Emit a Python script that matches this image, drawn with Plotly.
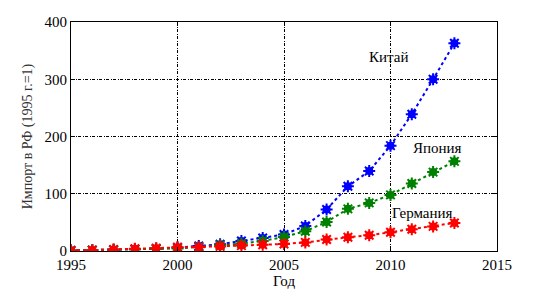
import plotly.graph_objects as go

years = list(range(1995, 2014))
china = [1, 1.5, 2, 3, 4, 6, 8.8, 11.7, 17.5, 22.8, 28.7, 43.8, 72.5, 113, 139.6, 184, 239, 300, 363]
japan = [1, 1.5, 2, 3, 4, 4.5, 7, 10, 13, 17.5, 24.5, 34.5, 50.8, 73.6, 84, 98, 118, 137.8, 156.6]
germany = [1, 1.5, 2.5, 4, 5, 6.5, 6.5, 8, 9.4, 11, 12.3, 15, 20, 24, 27.5, 32.7, 38, 43, 49]

series = [("Китай", china, "#0000ff"), ("Япония", japan, "#008000"), ("Германия", germany, "#ff0000")]
labels = [("Китай", 2009.9, 339), ("Япония", 2012.2, 180), ("Германия", 2011.5, 67)]

FONT = "Times New Roman, Liberation Serif, serif"
fig = go.Figure()
for name, vals, col in series:
    fig.add_trace(go.Scatter(x=years, y=vals, mode="lines+markers", name=name,
                             line=dict(color=col, width=2, dash="dot"),
                             marker=dict(symbol="circle", size=8, color=col)))
    fig.add_trace(go.Scatter(x=years, y=vals, mode="markers", showlegend=False,
                             marker=dict(symbol="asterisk-open", size=10, color=col,
                                         line=dict(color=col, width=2))))

for txt, x, y in labels:
    fig.add_annotation(x=x, y=y, text=txt, showarrow=False,
                       font=dict(family=FONT, size=15, color="black"))

axis_common = dict(showline=True, linecolor="black", linewidth=1, mirror="allticks",
                   ticks="inside", ticklen=4, tickcolor="black", automargin=False,
                   showgrid=True, gridcolor="black", gridwidth=1, griddash="3px,1.5px,1px,1.5px",
                   zeroline=False, tickfont=dict(family=FONT, size=15, color="black"))

fig.update_layout(
    width=541, height=285, margin=dict(l=63, r=52, t=14, b=42),
    paper_bgcolor="white", plot_bgcolor="white", showlegend=False,
    font=dict(family=FONT),
    xaxis=dict(range=[1995, 2015], tickvals=[1995, 2000, 2005, 2010, 2015],
               title=dict(text="Год", font=dict(family=FONT, size=15, color="black"), standoff=0),
               **axis_common),
    yaxis=dict(range=[0, 400], tickvals=[0, 100, 200, 300, 400],
               title=dict(text="Импорт в РФ (1995 г.=1)", font=dict(family=FONT, size=14, color="#333"), standoff=8),
               **axis_common),
)
fig.write_html("out.html")
